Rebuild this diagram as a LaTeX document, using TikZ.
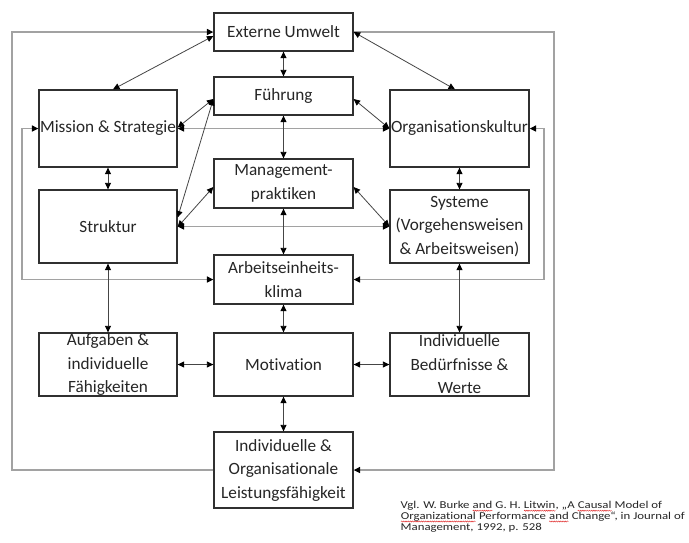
\documentclass[tikz,border=0pt]{standalone}
\usepackage{fontspec}
\setmainfont{Carlito}[Ligatures=NoCommon]
\newfontfamily\citefont[FakeStretch=1.22,Ligatures=NoCommon]{Carlito}
\usetikzlibrary{arrows.meta,calc,decorations.pathmorphing}
\definecolor{boxline}{HTML}{303030}
\definecolor{arr}{HTML}{454545}
\definecolor{fb}{HTML}{A2A2A2}
\definecolor{txt}{HTML}{262626}
\definecolor{spell}{HTML}{E02828}
\newcommand\redwave[1]{\tikz[baseline=(w.base)]{\node[inner sep=0pt, outer sep=0pt] (w) {#1};
  \draw[spell, line width=0.45pt, decorate, decoration={snake, amplitude=0.55pt, segment length=2.2pt}]
    ([yshift=-2.2pt]w.base west) -- ([yshift=-2.2pt]w.base east);}}
\begin{document}
\begin{tikzpicture}[x=1pt,y=-1pt,
  box/.style={draw=boxline, line width=1.3pt, fill=white, inner sep=0pt, text=txt,
    align=center, font=\fontsize{17.2}{23.5}\selectfont},
  wbox/.style={box, minimum width=139pt},
  conn/.style={draw=arr, line width=0.8pt, {Triangle[length=6.5pt,width=6pt,color=black]}-{Triangle[length=6.5pt,width=6pt,color=black]}},
  fbline/.style={draw=fb, line width=1.4pt},
  fbboth/.style={fbline, {Triangle[length=6.5pt,width=6pt,color=black]}-{Triangle[length=6.5pt,width=6pt,color=black]}},
  fbend/.style={fbline, -{Triangle[length=6.5pt,width=6pt,color=black]}}
]
\useasboundingbox[fill=white] (0,0) rectangle (689,542);

% boxes
\node[wbox, minimum height=38pt] (ext) at (283.5,32) {Externe Umwelt};
\node[wbox, minimum height=38pt] (fuehr) at (283.5,96) {Führung};
\node[wbox, minimum width=138pt, minimum height=77pt] (mission) at (108,128.5) {Mission \& Strategie};
\node[wbox, minimum height=77pt] (org) at (459.5,128.5) {Organisationskultur};
\node[wbox, minimum height=49pt] (mgmt) at (283.5,183.5) {Management-\\praktiken};
\node[wbox, minimum width=138pt, minimum height=73pt] (struktur) at (108,226.5) {Struktur};
\node[wbox, minimum height=73pt] (systeme) at (459.5,226.5) {Systeme\\(Vorgehensweisen\\\& Arbeitsweisen)};
\node[wbox, minimum height=49pt] (klima) at (283.5,279.5) {Arbeitseinheits-\\klima};
\node[wbox, minimum width=138pt, minimum height=63pt] (aufgaben) at (108,364.5) {Aufgaben \&\\individuelle\\Fähigkeiten};
\node[wbox, minimum height=63pt] (motiv) at (283.5,364.5) {Motivation};
\node[wbox, minimum height=63pt] (beduerf) at (459.5,364.5) {Individuelle\\Bedürfnisse \&\\Werte};
\node[wbox, minimum height=76pt] (leist) at (283.5,470) {Individuelle \&\\Organisationale\\Leistungsfähigkeit};

% feedback loops (gray)
\coordinate (olx) at (12,0);
\coordinate (ilx) at (22,0);
\coordinate (irx) at (544,0);
\coordinate (orx) at (554,0);
\draw[fbend] (leist.west) -- (leist.west -| olx) |- (ext.west);
\draw[fbend] (ext.east) -- (ext.east -| orx) |- (leist.east);
\draw[fbboth] (mission.west) -- (mission.west -| ilx) |- (klima.west);
\draw[fbboth] (org.east) -- (org.east -| irx) |- (klima.east);
\draw[fbboth] (mission.east) -- (org.west);
\draw[fbboth] (struktur.east) -- (systeme.west);

% vertical / horizontal links
\draw[conn] (ext) -- (fuehr);
\draw[conn] (fuehr) -- (mgmt);
\draw[conn] (mgmt) -- (klima);
\draw[conn] (klima) -- (motiv);
\draw[conn] (motiv) -- (leist);
\draw[conn] (mission) -- (struktur);
\draw[conn] (struktur) -- (aufgaben);
\draw[conn] (org) -- (systeme);
\draw[conn] (systeme) -- (beduerf);
\draw[conn] (aufgaben) -- (motiv);
\draw[conn] (motiv) -- (beduerf);

% diagonals
\draw[conn] ($(ext.west)+(0,4)$) -- ($(mission.north)+(5,0)$);
\draw[conn] (ext.east) -- ($(org.north)+(-4.5,0)$);
\draw[conn] ($(fuehr.west)+(0,3)$) -- ($(mission.east)+(0,-1)$);
\draw[conn] ($(fuehr.west)+(0,3)$) -- ($(struktur.east)+(0,-9)$);
\draw[conn] ($(mgmt.west)+(0,3.5)$) -- ($(struktur.east)+(0,0.5)$);
\draw[conn] ($(fuehr.east)+(0,3)$) -- (org.west);
\draw[conn] ($(mgmt.east)+(0,3.5)$) -- (systeme.west);

% citation
\node[anchor=north west, inner sep=0pt, align=left, text=txt,
  font=\citefont\fontsize{10.5}{10.8}\selectfont] (cite) at (400.5,501)
  {Vgl. W. Burke \redwave{and} G. H. \redwave{Litwin}, „A \redwave{Causal} Model of\\
   \redwave{Organizational} Performance \redwave{and} Change“, in Journal of\\
   Management, 1992, p. 528};
\end{tikzpicture}
\end{document}
